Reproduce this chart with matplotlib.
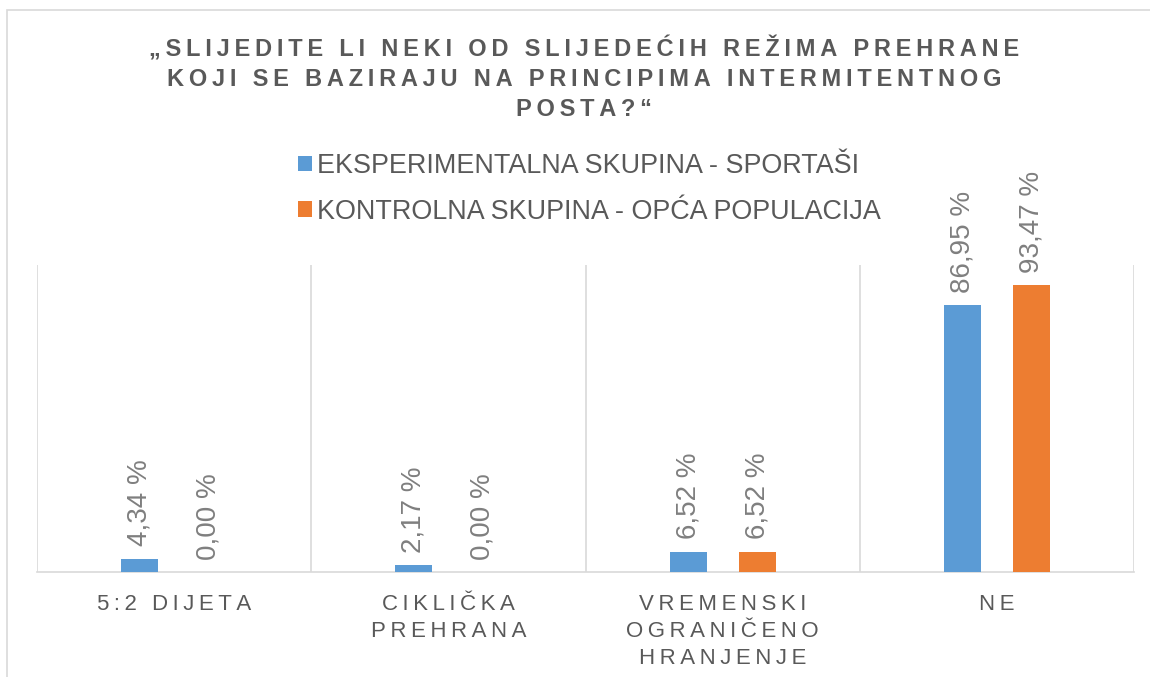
import matplotlib.pyplot as plt
from matplotlib.patches import Rectangle, Patch
import numpy as np

plt.rcParams['font.family'] = ['Liberation Sans', 'DejaVu Sans']

naslov = '„SLIJEDITE LI NEKI OD SLIJEDEĆIH REŽIMA PREHRANE\nKOJI SE BAZIRAJU NA PRINCIPIMA INTERMITENTNOG\nPOSTA?“'
kategorije = ['5:2 DIJETA', 'CIKLIČKA\nPREHRANA', 'VREMENSKI\nOGRANIČENO\nHRANJENJE', 'NE']
serije = ['EKSPERIMENTALNA SKUPINA - SPORTAŠI', 'KONTROLNA SKUPINA - OPĆA POPULACIJA']
sportasi = [4.34, 2.17, 6.52, 86.95]
populacija = [0.00, 0.00, 6.52, 93.47]
boje = ['#5B9BD5', '#ED7D31']


def razmak(s, sp='\u2009'):
    # razmak izmedju slova, kao u Excelu
    return '\n'.join(sp.join(red) for red in s.split('\n'))


fig = plt.figure(figsize=(11.5, 6.77), dpi=100)
ax = fig.add_axes([37 / 1150, 105 / 677, 1097 / 1150, 307 / 677])

# okvir grafikona
fig.patches.append(Rectangle((7 / 1150, -0.1), 1.2, 1.1 - 10 / 677,
                             transform=fig.transFigure, fill=False,
                             edgecolor='#d9d9d9', linewidth=1.2))

x = np.arange(len(kategorije))
w = 0.135
off = 0.126
for i, (vals, boja) in enumerate(zip([sportasi, populacija], boje)):
    pos = x + (-off if i == 0 else off)
    bars = ax.bar(pos, vals, width=w, color=boja, zorder=3)
    for b, v in zip(bars, vals):
        ax.annotate(('%.2f %%' % v).replace('.', ','),
                    (b.get_x() + b.get_width() / 2, v),
                    xytext=(0, 9), textcoords='offset points',
                    rotation=90, ha='center', va='bottom',
                    fontsize=20, color='#7f7f7f')

ax.set_xlim(-0.5, len(kategorije) - 0.5)
ax.set_ylim(0, 100)
for k in range(len(kategorije) + 1):
    ax.axvline(k - 0.5, color='#d9d9d9', linewidth=1.2, zorder=1)

for s in ['top', 'left', 'right']:
    ax.spines[s].set_visible(False)
ax.spines['bottom'].set_color('#d9d9d9')
ax.spines['bottom'].set_linewidth(1.2)
ax.set_yticks([])
ax.set_xticks(x)
ax.set_xticklabels([razmak(k) for k in kategorije], fontsize=16,
                   color='#595959', linespacing=1.38)
ax.tick_params(axis='x', length=0, pad=16)

fig.text(584 / 1150, 1 - 36 / 677, razmak(naslov), ha='center', va='top',
         fontsize=17, fontweight='bold', color='#595959', linespacing=1.4)

handles = [Patch(facecolor=b) for b in boje]
fig.legend(handles, serije, loc='upper left',
           bbox_to_anchor=(274 / 1150, 1 - 129 / 677), frameon=False,
           fontsize=19.4, labelcolor='#595959', handlelength=0.5,
           handleheight=0.5, handletextpad=0.2, labelspacing=0.72)

fig.savefig('out.png', dpi=100)
